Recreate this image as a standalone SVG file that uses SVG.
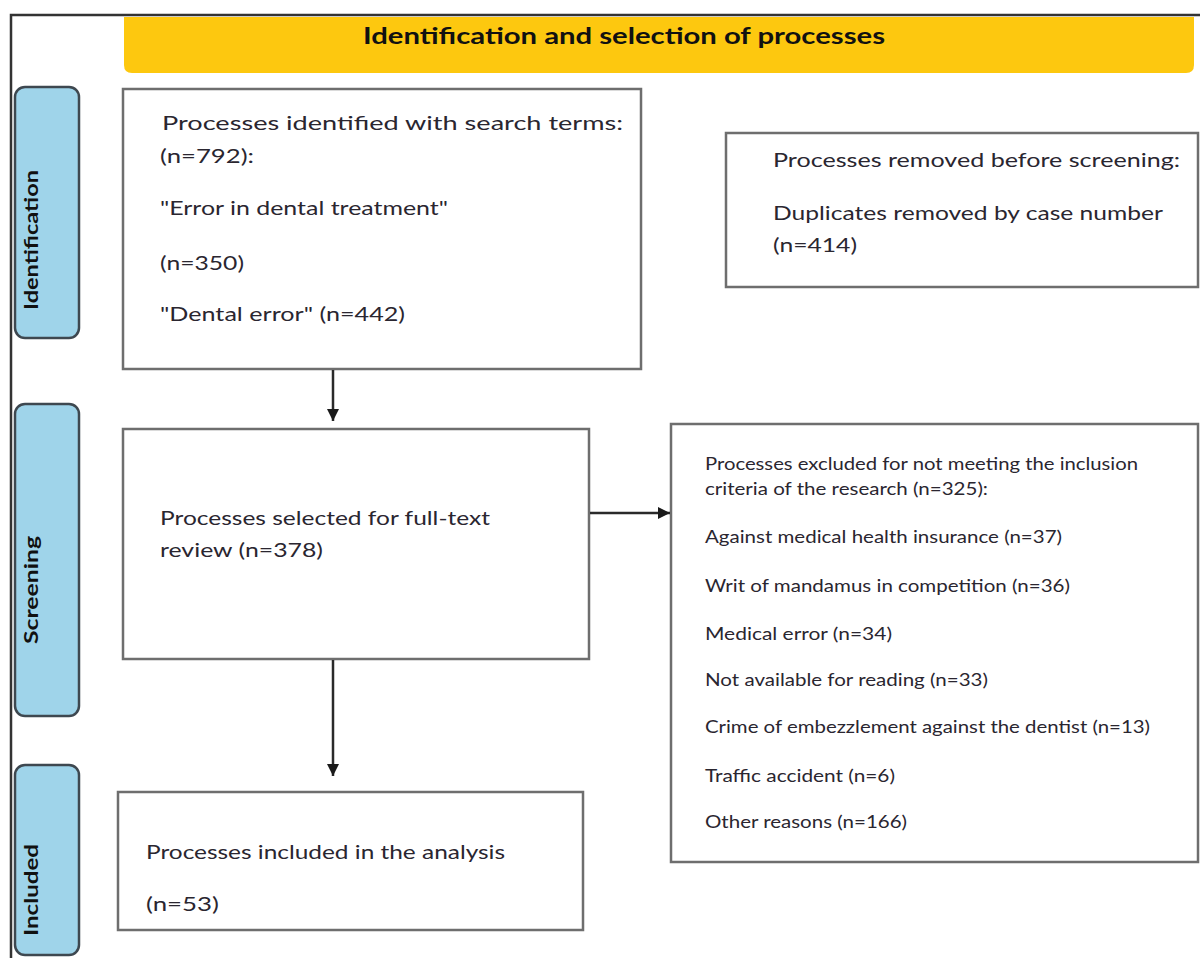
<svg xmlns="http://www.w3.org/2000/svg" width="1200" height="958" viewBox="0 0 1200 958">
<defs>
<marker id="ah" viewBox="0 0 10 10" refX="10" refY="5" markerWidth="5" markerHeight="5" orient="auto" markerUnits="strokeWidth">
<path d="M0,0 L10,5 L0,10 z" fill="#1a1a1a"/>
</marker>
</defs>
<style>
.box{fill:#fff;stroke:#6e6e6e;stroke-width:2.5}
.side{fill:#9fd4ea;stroke:#3e4850;stroke-width:2.5}
.t{font-family:Lato,"Open Sans","Liberation Sans",sans-serif;fill:#2a2630;font-size:20px}
.s{font-family:Lato,"Open Sans","Liberation Sans",sans-serif;fill:#2a2630;font-size:17px}
.sl{font-family:Lato,"Open Sans","Liberation Sans",sans-serif;fill:#111;font-size:18px;font-weight:bold}
.title{font-family:Lato,"Open Sans","Liberation Sans",sans-serif;fill:#111;font-size:23px;font-weight:bold}
.c{stroke:#2a2a2a;stroke-width:2.5;fill:none}
</style>
<rect width="1200" height="958" fill="#fff"/>
<g id="frame">
<path d="M11,958 L11,15 L1200,15" fill="none" stroke="#333" stroke-width="2.5"/>
</g>
<g id="banner">
<path d="M124,17 L1194,17 L1194,65 Q1194,73 1186,73 L132,73 Q124,73 124,65 Z" fill="#fdc80f"/>
<text class="title" x="624" y="44" text-anchor="middle" textLength="522" lengthAdjust="spacingAndGlyphs">Identification and selection of processes</text>
</g>
<g id="lbl-identification">
<rect class="side" x="15" y="87" width="64" height="251" rx="10"/>
<text class="sl" transform="translate(38,240) rotate(-90)" text-anchor="middle" textLength="140" lengthAdjust="spacingAndGlyphs">Identification</text>
</g>
<g id="lbl-screening">
<rect class="side" x="15" y="404" width="64" height="312" rx="10"/>
<text class="sl" transform="translate(38,590) rotate(-90)" text-anchor="middle" textLength="108" lengthAdjust="spacingAndGlyphs">Screening</text>
</g>
<g id="lbl-included">
<rect class="side" x="15" y="765" width="64" height="190" rx="10"/>
<text class="sl" transform="translate(38,890) rotate(-90)" text-anchor="middle" textLength="92" lengthAdjust="spacingAndGlyphs">Included</text>
</g>
<g id="n-identified">
<rect class="box" x="123" y="89" width="518" height="280"/>
<text class="t" x="162" y="130" textLength="461" lengthAdjust="spacingAndGlyphs">Processes identified with search terms:</text>
<text class="t" x="160" y="163" textLength="94" lengthAdjust="spacingAndGlyphs">(n=792):</text>
<text class="t" x="160" y="215" textLength="288" lengthAdjust="spacingAndGlyphs">"Error in dental treatment"</text>
<text class="t" x="160" y="270" textLength="84" lengthAdjust="spacingAndGlyphs">(n=350)</text>
<text class="t" x="160" y="321" textLength="245" lengthAdjust="spacingAndGlyphs">"Dental error" (n=442)</text>
</g>
<g id="n-removed">
<rect class="box" x="726" y="133" width="472" height="154"/>
<text class="t" x="773" y="167" textLength="407" lengthAdjust="spacingAndGlyphs">Processes removed before screening:</text>
<text class="t" x="773" y="220" textLength="390" lengthAdjust="spacingAndGlyphs">Duplicates removed by case number</text>
<text class="t" x="773" y="252" textLength="84" lengthAdjust="spacingAndGlyphs">(n=414)</text>
</g>
<g id="n-selected">
<rect class="box" x="123" y="429" width="466" height="230"/>
<text class="t" x="160" y="525" textLength="330" lengthAdjust="spacingAndGlyphs">Processes selected for full-text</text>
<text class="t" x="160" y="557" textLength="163" lengthAdjust="spacingAndGlyphs">review (n=378)</text>
</g>
<g id="n-excluded">
<rect class="box" x="671" y="424" width="527" height="438"/>
<text class="s" x="705" y="470" textLength="433" lengthAdjust="spacingAndGlyphs">Processes excluded for not meeting the inclusion</text>
<text class="s" x="705" y="495" textLength="283" lengthAdjust="spacingAndGlyphs">criteria of the research (n=325):</text>
<text class="s" x="705" y="543" textLength="357" lengthAdjust="spacingAndGlyphs">Against medical health insurance (n=37)</text>
<text class="s" x="705" y="592" textLength="365" lengthAdjust="spacingAndGlyphs">Writ of mandamus in competition (n=36)</text>
<text class="s" x="705" y="640" textLength="187" lengthAdjust="spacingAndGlyphs">Medical error (n=34)</text>
<text class="s" x="705" y="686" textLength="283" lengthAdjust="spacingAndGlyphs">Not available for reading (n=33)</text>
<text class="s" x="705" y="733" textLength="445" lengthAdjust="spacingAndGlyphs">Crime of embezzlement against the dentist (n=13)</text>
<text class="s" x="705" y="782" textLength="190" lengthAdjust="spacingAndGlyphs">Traffic accident (n=6)</text>
<text class="s" x="705" y="828" textLength="202" lengthAdjust="spacingAndGlyphs">Other reasons (n=166)</text>
</g>
<g id="n-included">
<rect class="box" x="118" y="792" width="465" height="138"/>
<text class="t" x="146" y="859" textLength="359" lengthAdjust="spacingAndGlyphs">Processes included in the analysis</text>
<text class="t" x="146" y="911" textLength="73" lengthAdjust="spacingAndGlyphs">(n=53)</text>
</g>
<g id="connectors">
<line class="c" x1="333" y1="370" x2="333" y2="421" marker-end="url(#ah)"/>
<line class="c" x1="333" y1="660" x2="333" y2="776" marker-end="url(#ah)"/>
<line class="c" x1="590" y1="513" x2="670" y2="513" marker-end="url(#ah)"/>
</g>
</svg>
